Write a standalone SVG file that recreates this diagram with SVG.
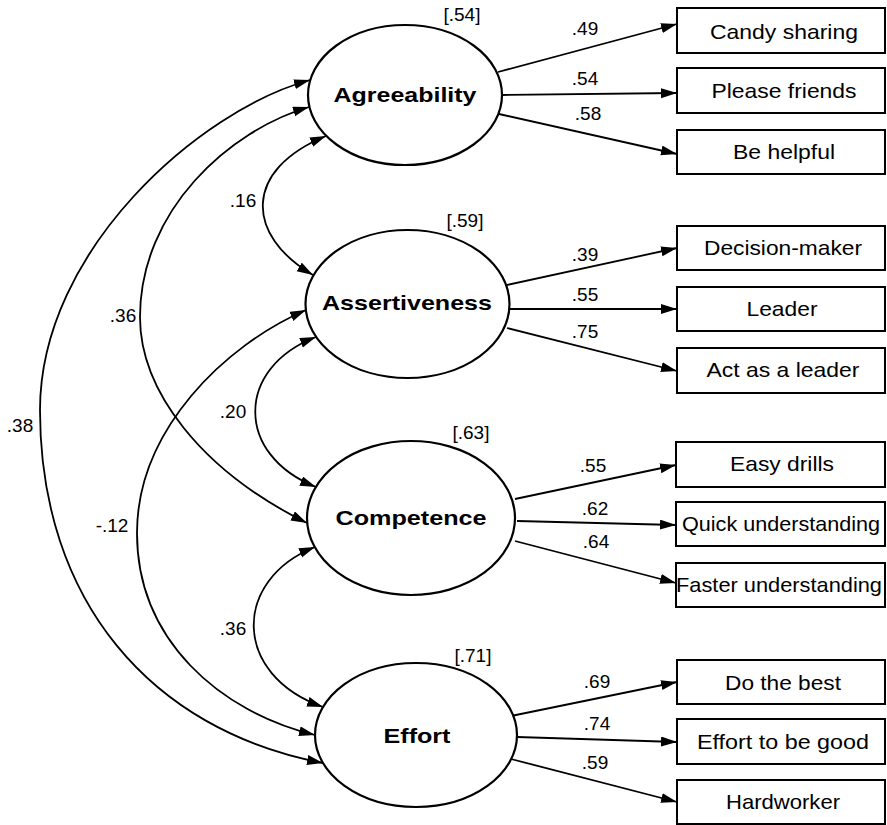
<svg xmlns="http://www.w3.org/2000/svg" width="887" height="825" viewBox="0 0 887 825">
<defs>
<marker id="ah" markerUnits="userSpaceOnUse" markerWidth="17" markerHeight="11" refX="16" refY="5" orient="auto-start-reverse">
<path d="M0,0 L16,5 L0,10 z" fill="#000"/>
</marker>
<style>
.lat{fill:#fff;stroke:#000;stroke-width:2.2}
.box{fill:#fff;stroke:#000;stroke-width:2}
.ln{fill:none;stroke:#000;stroke-width:1.8;marker-end:url(#ah)}
.cv{fill:none;stroke:#000;stroke-width:1.8;marker-start:url(#ah);marker-end:url(#ah)}
.nl{font-family:"Liberation Sans",Arial,sans-serif;font-weight:bold;font-size:21px;text-anchor:middle;fill:#000}
.bl{font-family:"Liberation Sans",Arial,sans-serif;font-size:21px;text-anchor:middle;fill:#000}
.cf{font-family:"Liberation Sans",Arial,sans-serif;font-size:19px;text-anchor:middle;fill:#000}
</style>
</defs>
<rect width="887" height="825" fill="#fff"/>
<g id="connectors">
<path class="cv" d="M326,136 C243,170 245,235 313,275"/>
<path class="cv" d="M316,337 C235,368 235,455 316,487"/>
<path class="cv" d="M315,547 C232,580 232,675 323,707"/>
<path class="cv" d="M309,107 C230,130 140,210 140,317 C140,390 200,470 307,523"/>
<path class="cv" d="M306,310 C225,345 137,430 137,533 C137,640 220,712 315,735"/>
<path class="cv" d="M310,80 C200,110 40,250 40,410 C40,600 150,730 323,763"/>
<path class="ln" d="M498,72 L677,24"/>
<path class="ln" d="M502,95 L677,93"/>
<path class="ln" d="M499,114 L677,154"/>
<path class="ln" d="M507,285 L677,248"/>
<path class="ln" d="M510,309 L677,309"/>
<path class="ln" d="M507,328 L677,371"/>
<path class="ln" d="M515,499 L676,465"/>
<path class="ln" d="M517,521 L676,525"/>
<path class="ln" d="M515,541 L676,583"/>
<path class="ln" d="M511,716 L677,682"/>
<path class="ln" d="M517,737 L677,742"/>
<path class="ln" d="M511,759 L677,802"/>
<text class="cf" x="243" y="207">.16</text>
<text class="cf" x="233" y="418">.20</text>
<text class="cf" x="233" y="635">.36</text>
<text class="cf" x="123" y="322">.36</text>
<text class="cf" x="112" y="532">-.12</text>
<text class="cf" x="20" y="432">.38</text>
<text class="cf" x="585" y="35">.49</text>
<text class="cf" x="585" y="85">.54</text>
<text class="cf" x="588" y="120">.58</text>
<text class="cf" x="585" y="261">.39</text>
<text class="cf" x="585" y="301">.55</text>
<text class="cf" x="585" y="338">.75</text>
<text class="cf" x="593" y="472">.55</text>
<text class="cf" x="595" y="515">.62</text>
<text class="cf" x="596" y="548">.64</text>
<text class="cf" x="597" y="688">.69</text>
<text class="cf" x="597" y="730">.74</text>
<text class="cf" x="595" y="769">.59</text>
</g>
<g id="agreeability">
<ellipse class="lat" cx="405" cy="95" rx="97" ry="70"/>
<text class="nl" x="405" y="102" textLength="143" lengthAdjust="spacingAndGlyphs">Agreeability</text>
<text class="cf" x="462" y="21">[.54]</text>
</g>
<g id="assertiveness">
<ellipse class="lat" cx="407.5" cy="304" rx="102" ry="74"/>
<text class="nl" x="407" y="310" textLength="170" lengthAdjust="spacingAndGlyphs">Assertiveness</text>
<text class="cf" x="465" y="227">[.59]</text>
</g>
<g id="competence">
<ellipse class="lat" cx="411" cy="518" rx="104" ry="77"/>
<text class="nl" x="411" y="525" textLength="151" lengthAdjust="spacingAndGlyphs">Competence</text>
<text class="cf" x="471" y="439">[.63]</text>
</g>
<g id="effort">
<ellipse class="lat" cx="416" cy="735" rx="101" ry="72"/>
<text class="nl" x="417" y="743" textLength="67" lengthAdjust="spacingAndGlyphs">Effort</text>
<text class="cf" x="473" y="662">[.71]</text>
</g>
<g id="candy-sharing"><rect class="box" x="677" y="8" width="208" height="45"/><text class="bl" x="784" y="39" textLength="148" lengthAdjust="spacingAndGlyphs">Candy sharing</text></g>
<g id="please-friends"><rect class="box" x="677" y="68" width="208" height="45"/><text class="bl" x="784" y="98" textLength="145" lengthAdjust="spacingAndGlyphs">Please friends</text></g>
<g id="be-helpful"><rect class="box" x="677" y="130" width="208" height="44"/><text class="bl" x="784" y="159" textLength="102" lengthAdjust="spacingAndGlyphs">Be helpful</text></g>
<g id="decision-maker"><rect class="box" x="677" y="226" width="208" height="44"/><text class="bl" x="783" y="255" textLength="158" lengthAdjust="spacingAndGlyphs">Decision-maker</text></g>
<g id="leader"><rect class="box" x="677" y="287" width="208" height="44"/><text class="bl" x="782" y="316" textLength="71" lengthAdjust="spacingAndGlyphs">Leader</text></g>
<g id="act-as-a-leader"><rect class="box" x="677" y="348" width="208" height="45"/><text class="bl" x="783" y="377" textLength="153" lengthAdjust="spacingAndGlyphs">Act as a leader</text></g>
<g id="easy-drills"><rect class="box" x="676" y="442" width="209" height="45"/><text class="bl" x="782" y="471" textLength="104" lengthAdjust="spacingAndGlyphs">Easy drills</text></g>
<g id="quick-understanding"><rect class="box" x="676" y="502" width="209" height="44"/><text class="bl" x="781" y="531" textLength="198" lengthAdjust="spacingAndGlyphs">Quick understanding</text></g>
<g id="faster-understanding"><rect class="box" x="676" y="563" width="209" height="44"/><text class="bl" x="779" y="592" textLength="206" lengthAdjust="spacingAndGlyphs">Faster understanding</text></g>
<g id="do-the-best"><rect class="box" x="677" y="660" width="208" height="44"/><text class="bl" x="783" y="690" textLength="116" lengthAdjust="spacingAndGlyphs">Do the best</text></g>
<g id="effort-to-be-good"><rect class="box" x="677" y="719" width="208" height="45"/><text class="bl" x="783" y="749" textLength="172" lengthAdjust="spacingAndGlyphs">Effort to be good</text></g>
<g id="hardworker"><rect class="box" x="677" y="780" width="208" height="44"/><text class="bl" x="783" y="809" textLength="114" lengthAdjust="spacingAndGlyphs">Hardworker</text></g>
</svg>
